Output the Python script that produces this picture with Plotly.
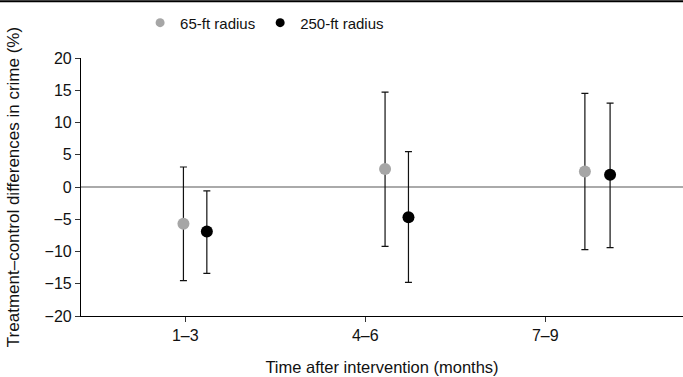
import plotly.graph_objects as go

categories = ["1–3", "4–6", "7–9"]
tick_pos = [0, 1, 2]

# 65-ft radius
x_65 = [-0.01, 1.11, 2.22]
y_65 = [-5.7, 2.8, 2.4]
hi_65 = [3.1, 14.7, 14.5]
lo_65 = [-14.5, -9.2, -9.7]

# 250-ft radius
x_250 = [0.12, 1.24, 2.36]
y_250 = [-6.9, -4.7, 1.9]
hi_250 = [-0.6, 5.5, 13.0]
lo_250 = [-13.4, -14.8, -9.4]

FAM = "Liberation Sans, Arial, Helvetica, sans-serif"

fig = go.Figure()

def add(name, xs, ys, hi, lo, color):
    fig.add_trace(go.Scatter(
        x=xs, y=ys, mode="markers", name=name, showlegend=False,
        legendgroup=name,
        marker=dict(color=color, size=12),
        error_y=dict(type="data", symmetric=False,
                     array=[h - y for h, y in zip(hi, ys)],
                     arrayminus=[y - l for l, y in zip(lo, ys)],
                     color="#111", thickness=1.2, width=3.5),
    ))
    fig.add_trace(go.Scatter(
        x=[None], y=[None], mode="markers", name=name, legendgroup=name,
        marker=dict(color=color, size=9),
    ))

add("65-ft radius", x_65, y_65, hi_65, lo_65, "#a6a6a6")
add("250-ft radius", x_250, y_250, hi_250, lo_250, "#000000")

fig.add_hline(y=0, line=dict(color="#aaaaaa", width=1.8), layer="below")

fig.add_shape(type="line", xref="paper", yref="paper",
              x0=-81/602, x1=1, y0=1 + 56.8/258, y1=1 + 56.8/258,
              line=dict(color="black", width=2))

fig.update_layout(
    width=683, height=377,
    margin=dict(l=81, r=0, t=58, b=61, autoexpand=False),
    plot_bgcolor="white", paper_bgcolor="white",
    font=dict(family=FAM, size=15, color="#111"),
    showlegend=True,
    legend=dict(orientation="h", x=0.305, xanchor="center", y=1.136, yanchor="middle",
                font=dict(family=FAM, size=15, color="#111"), itemwidth=30,
                bgcolor="rgba(0,0,0,0)", tracegroupgap=0),
    xaxis=dict(range=[-0.579, 2.765], tickvals=tick_pos, ticktext=categories,
               showgrid=False, zeroline=False, showline=True, linecolor="black",
               linewidth=1.2, ticks="outside", ticklen=5, tickcolor="#333",
               tickfont=dict(family=FAM, size=16, color="#111"),
               title=dict(text="Time after intervention (months)", standoff=18,
                          font=dict(family=FAM, size=16.5, color="#111"))),
    yaxis=dict(range=[-20, 20], tickvals=list(range(-20, 21, 5)),
               ticktext=[("−" + str(-v)) if v < 0 else str(v) for v in range(-20, 21, 5)],
               showgrid=False, zeroline=False, showline=True, linecolor="black",
               linewidth=1.2, ticks="outside", ticklen=5, tickcolor="#333",
               tickfont=dict(family=FAM, size=16, color="#111"),
               title=dict(text="Treatment–control differences in crime (%)", standoff=20,
                          font=dict(family=FAM, size=17, color="#111"))),
)

fig.write_html("out.html", config={"displayModeBar": False},
               post_script="document.body.style.margin='0';document.body.style.padding='0';")
